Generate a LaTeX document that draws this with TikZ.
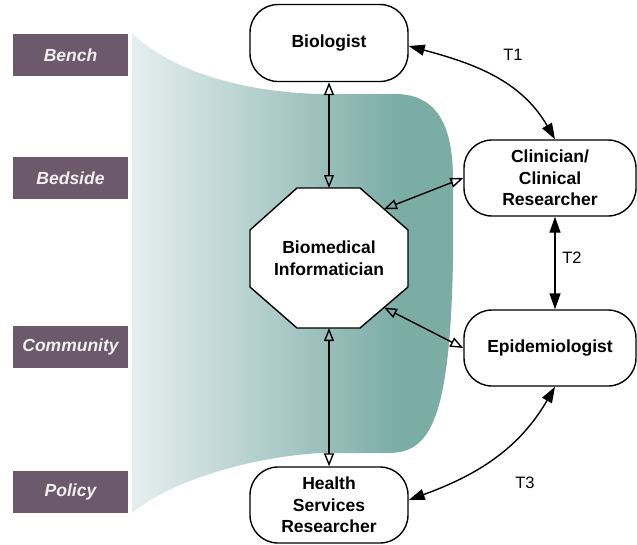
\documentclass[tikz,border=0pt]{standalone}
\usepackage{fontspec}
\setmainfont{Liberation Sans}
\usetikzlibrary{arrows.meta,calc}
\definecolor{band}{HTML}{6C5A6C}
\definecolor{tealdark}{HTML}{7BACA6}
\definecolor{teallight}{HTML}{E6EFEF}
\definecolor{bandtext}{HTML}{F2EEF2}
\tikzset{
  actor/.style={draw, line width=1.4pt, fill=white, rounded corners=28pt,
    minimum width=158pt, minimum height=77pt, align=center, inner sep=0pt,
    font=\fontsize{17.5}{21.5}\selectfont\bfseries},
  stage/.style={fill=band, minimum width=115pt, minimum height=42pt, inner sep=0pt,
    text=bandtext, font=\fontsize{17.5}{21}\selectfont\bfseries\itshape},
  link/.style={line width=1.4pt,
    {Triangle[open,length=13pt,width=10pt,line width=1.4pt]}-{Triangle[open,length=13pt,width=10pt,line width=1.4pt]}},
  trans/.style={line width=1.4pt,
    {Triangle[length=16pt,width=11pt]}-{Triangle[length=16pt,width=11pt]}},
  tlabel/.style={font=\fontsize{16.5}{18}\selectfont}
}
\begin{document}
\begin{tikzpicture}[x=1pt,y=-1pt]
\useasboundingbox (0,0) rectangle (637,544);

% translational band behind the actors
\begin{scope}
  \clip (132,33) .. controls (170,70) and (240,92) .. (320,94) -- (395,94)
    .. controls (440,94) and (453,130) .. (453,180) -- (453,260)
    .. controls (450,420) and (430,452) .. (390,453) -- (320,453)
    .. controls (240,458) and (165,485) .. (132,513) -- cycle;
  \shade[left color=teallight, right color=tealdark] (132,20) rectangle (400,530);
  \fill[tealdark] (399.5,20) rectangle (470,530);
\end{scope}

% stage labels
\node[stage] (bench) at (70.5,55) {Bench};
\node[stage] (bedside) at (70.5,178) {Bedside};
\node[stage] (community) at (70.5,346.5) {Community};
\node[stage] (policy) at (70.5,491.5) {Policy};

% actors
\node[actor] (bio) at (329,43) {Biologist};
\node[actor, minimum width=172pt, minimum height=76pt] (clin) at (550,178) {Clinician/\\Clinical\\Researcher};
\node[actor, minimum width=172pt, minimum height=76pt] (epi) at (550,348) {Epidemiologist};
\node[actor, minimum height=76pt] (hsr) at (329,505) {Health\\Services\\Researcher};

% informatician octagon
\draw[line width=1.4pt, fill=white] (297,188) -- (360,188) -- (408,230) -- (408,287)
  -- (360,328) -- (297,328) -- (250,287) -- (250,230) -- cycle;
\node[font=\fontsize{17.5}{21.5}\selectfont\bfseries, align=center] (inf) at (329,258) {Biomedical\\Informatician};
\coordinate (inf-n) at (329,188);
\coordinate (inf-s) at (329,328);
\coordinate (inf-ne) at (384,209);
\coordinate (inf-se) at (384,307.5);

% links to the informatician
\draw[link] (bio.south) -- (inf-n);
\draw[link] (clin.west) -- (inf-ne);
\draw[link] (epi.west) -- (inf-se);
\draw[link] (inf-s) -- (hsr.north);

% translational steps
\draw[trans] ($(bio.east)+(0,3)$) to[out=-15, in=120] ($(clin.north)+(5,0)$);
\draw[trans] ($(clin.south)+(5,0)$) -- ($(epi.north)+(5,0)$);
\draw[trans] ($(epi.south)+(5,0)$) to[out=-120, in=20] ($(hsr.east)+(0,-5)$);
\node[tlabel] (t1) at (513,55) {T1};
\node[tlabel] (t2) at (572,258) {T2};
\node[tlabel] (t3) at (525,483) {T3};
\end{tikzpicture}
\end{document}
